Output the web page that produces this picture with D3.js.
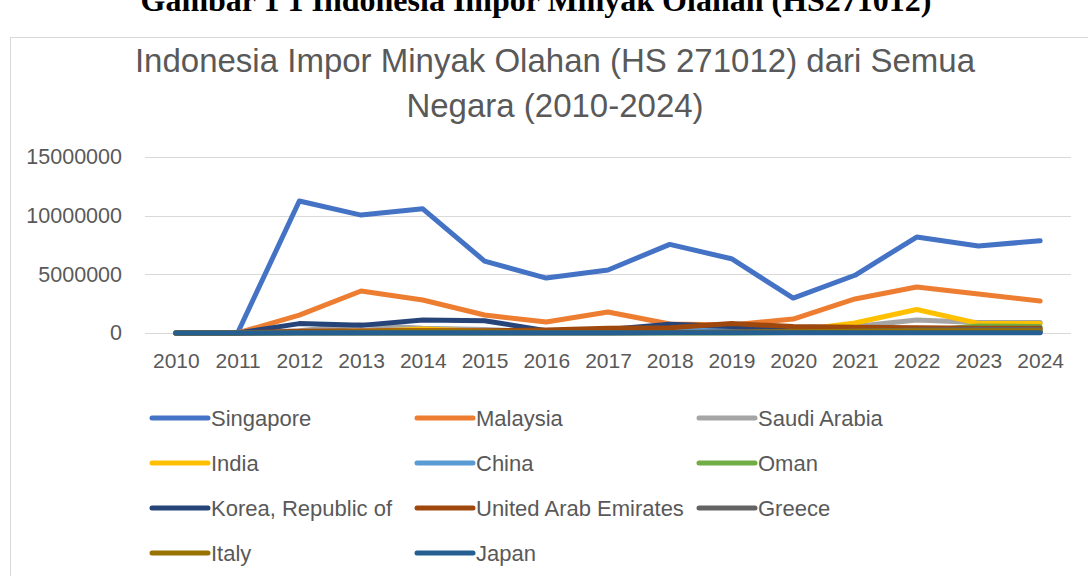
<!DOCTYPE html>
<html lang="en">
<head>
<meta charset="utf-8">
<title>Indonesia Impor Minyak Olahan</title>
<script src="https://d3js.org/d3.v7.min.js"></script>
<style>
  body { margin: 0; background: #fff; }
  text { font-family: "Liberation Sans", Arial, sans-serif; }
</style>
</head>
<body>
<script>
// data
var years = [2010, 2011, 2012, 2013, 2014, 2015, 2016, 2017, 2018, 2019, 2020, 2021, 2022, 2023, 2024];
var yTicks = [0, 5000000, 10000000, 15000000];

var singapore = [0, 0, 11250000, 10050000, 10580000, 6130000, 4680000, 5370000, 7550000, 6330000, 2980000, 4920000, 8180000, 7420000, 7860000];
var malaysia  = [0, 0, 1530000, 3580000, 2810000, 1530000, 940000, 1790000, 770000, 680000, 1190000, 2900000, 3920000, 3320000, 2730000];
var saudi     = [0, 0, 200000, 700000, 400000, 300000, 100000, 150000, 200000, 300000, 450000, 550000, 1100000, 900000, 900000];
var india     = [0, 0, 50000, 100000, 350000, 150000, 50000, 50000, 100000, 150000, 200000, 850000, 2000000, 820000, 800000];
var china     = [0, 0, 50000, 50000, 100000, 100000, 50000, 100000, 200000, 350000, 150000, 100000, 100000, 100000, 100000];
var oman      = [0, 0, 0, 0, 0, 0, 0, 0, 0, 0, 50000, 100000, 150000, 600000, 550000];
var korea     = [0, 0, 800000, 650000, 1100000, 1050000, 200000, 300000, 750000, 550000, 150000, 100000, 100000, 100000, 100000];
var uae       = [0, 0, 150000, 200000, 200000, 200000, 250000, 400000, 450000, 800000, 550000, 500000, 450000, 400000, 400000];
var greece    = [0, 0, 0, 0, 0, 0, 0, 0, 50000, 100000, 100000, 150000, 250000, 300000, 300000];
var italy     = [0, 0, 50000, 100000, 150000, 100000, 50000, 50000, 50000, 50000, 100000, 150000, 200000, 200000, 200000];
var japan     = [0, 0, 20000, 20000, 20000, 20000, 20000, 20000, 20000, 20000, 20000, 20000, 20000, 20000, 20000];

var names  = ["Singapore", "Malaysia", "Saudi Arabia", "India", "China", "Oman", "Korea, Republic of", "United Arab Emirates", "Greece", "Italy", "Japan"];
var colors = ["#4472C4", "#ED7D31", "#A5A5A5", "#FFC000", "#5B9BD5", "#70AD47", "#264478", "#9E480E", "#636363", "#997300", "#255E91"];
var values = [singapore, malaysia, saudi, india, china, oman, korea, uae, greece, italy, japan];

var w = 1088, h = 576;
var svg = d3.select("body").append("svg").attr("width", w).attr("height", h);

// caption above the chart (cut off at the top, as in the source)
svg.append("text").attr("x", 536).attr("y", 11).attr("text-anchor", "middle")
  .style("font-family", "'Liberation Serif', 'Times New Roman', serif")
  .style("font-weight", "bold").style("font-size", "32px").attr("fill", "#000")
  .text("Gambar 1 1 Indonesia Impor Minyak Olahan (HS271012)");

// chart frame
svg.append("rect").attr("x", 10.5).attr("y", 37.5).attr("width", 1100).attr("height", 600)
  .attr("fill", "#fff").attr("stroke", "#d9d9d9");

// title
var title = svg.append("text").attr("text-anchor", "middle").attr("fill", "#595959").style("font-size", "33px");
title.append("tspan").attr("x", 555).attr("y", 72).text("Indonesia Impor Minyak Olahan (HS 271012) dari Semua");
title.append("tspan").attr("x", 555).attr("y", 117).text("Negara (2010-2024)");

// scales
var xScale = d3.scalePoint().domain(years).range([145, 1071]).padding(0.5);
var yScale = d3.scaleLinear().domain([0, 15000000]).range([333, 157]);

// gridlines
svg.append("g").selectAll("line").data(yTicks).enter().append("line")
  .attr("x1", 145).attr("x2", 1071)
  .attr("y1", function(d) { return Math.round(yScale(d)) + 0.5; })
  .attr("y2", function(d) { return Math.round(yScale(d)) + 0.5; })
  .attr("stroke", "#d9d9d9").attr("stroke-width", 1);

// y axis labels
var yAxis = d3.axisLeft(yScale).tickValues(yTicks).tickSize(0).tickPadding(0).tickFormat(d3.format("d"));
var gy = svg.append("g").attr("transform", "translate(122,0)").call(yAxis);
gy.select(".domain").remove();
gy.selectAll("text").attr("fill", "#595959").style("font-size", "21.5px")
  .style("font-family", "'Liberation Sans', Arial, sans-serif");

// x axis labels
var xAxis = d3.axisBottom(xScale).tickSize(0).tickPadding(0);
var gx = svg.append("g").attr("transform", "translate(0,353)").call(xAxis);
gx.select(".domain").remove();
gx.selectAll("text").attr("fill", "#595959").style("font-size", "21px")
  .style("font-family", "'Liberation Sans', Arial, sans-serif");

// lines, later series on top
var line = d3.line()
  .x(function(d, i) { return xScale(years[i]); })
  .y(function(d) { return yScale(d); });

svg.append("g").selectAll("path").data(values).enter().append("path")
  .attr("d", line)
  .attr("fill", "none")
  .attr("stroke", function(d, i) { return colors[i]; })
  .attr("stroke-width", 5)
  .attr("stroke-linejoin", "round")
  .attr("stroke-linecap", "round");

// legend, 3 columns
var colX = [150, 415, 697];
var rowY = [418, 463, 508, 553];
var leg = svg.append("g").selectAll("g").data(names).enter().append("g")
  .attr("transform", function(d, i) { return "translate(" + colX[i % 3] + "," + rowY[Math.floor(i / 3)] + ")"; });
leg.append("line").attr("x1", 2).attr("x2", 58).attr("y1", 0).attr("y2", 0)
  .attr("stroke", function(d, i) { return colors[i]; })
  .attr("stroke-width", 5).attr("stroke-linecap", "round");
leg.append("text").attr("x", 61).attr("y", 8).attr("fill", "#595959").style("font-size", "22px")
  .text(function(d) { return d; });
</script>
</body>
</html>
